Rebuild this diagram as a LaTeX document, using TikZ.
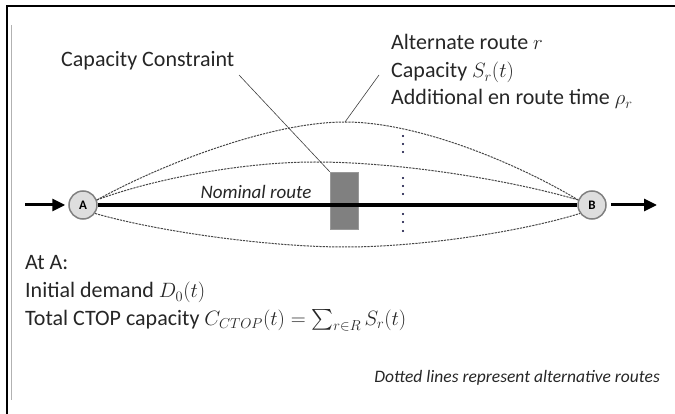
\documentclass[tikz,border=0pt]{standalone}
\usepackage{amsmath}
\usepackage{fontspec}
\setmainfont{Carlito}
\usetikzlibrary{arrows.meta}
\begin{document}
\begin{tikzpicture}[x=1pt,y=-1pt,
  txt/.style={inner sep=0pt, anchor=base west, font=\fontsize{22}{26}\selectfont, text=black!85},
  small/.style={inner sep=0pt, font=\itshape\fontsize{17.5}{21}\selectfont, text=black!85},
  alt/.style={draw=black!72, line width=1pt, dash pattern=on 2.2pt off 1pt},
  station/.style={circle, draw=black!50, fill=black!13, line width=1.5pt, minimum size=28pt, inner sep=0pt, font=\bfseries\fontsize{13}{13}\selectfont},
  leader/.style={draw=black!75, line width=0.6pt},
  flow/.style={line width=3pt, -{Triangle[length=13pt,width=12pt]}},
  nominal/.style={line width=4pt, black}
]
\useasboundingbox (0,0) rectangle (675,414);
% frame
\draw[line width=2.5pt] (675,6) -- (7,6) -- (7,414);
\draw[black!30, line width=0.8pt] (11,25) -- (11,400);

% stations
\node[station] (A) at (83,205) {A};
\node[station] (B) at (592,205) {B};
\coordinate (inA) at (25,205);
\coordinate (outB) at (657,205);

% capacity constraint box
\node[draw=black!40, fill=black!50, line width=0.5pt, minimum width=28pt, minimum height=57pt, inner sep=0pt] (cc) at (344,200.5) {};

% alternate routes
\coordinate (p1) at (345,122);
\coordinate (p2) at (315,162);
\coordinate (p3) at (345,247);
\draw[alt] (A.20) .. controls (160,165) and (270,122) .. (p1) .. controls (420,122) and (520,165) .. (B.160);
\draw[alt] (A.20) .. controls (150,180) and (240,162) .. (p2) .. controls (400,162) and (510,180) .. (B.160);
\draw[alt] (A.-35) .. controls (160,232) and (270,247) .. (p3) .. controls (420,247) and (520,232) .. (B.215);

% nominal route
\draw[nominal] (A.east) -- (B.west);
\node[small, font=\itshape\fontsize{19}{22}\selectfont, anchor=base] (nom) at (256,199) {Nominal route};

% arrows
\draw[flow, shorten >=3pt] (inA) -- (A.west);
\draw[flow, shorten <=4pt] (B.east) -- (outB);

% dots
\foreach \yy in {136,144,152,178,186,194,214,222,231}
  \fill[black!80!blue] (403,\yy) circle (1.1pt);

% labels
\node[txt] (ccl) at (61,67) {Capacity Constraint};
\node[txt] (alt1) at (391,50) {Alternate route $r$};
\node[txt] (alt2) at (391,78) {Capacity $S_r(t)$};
\node[txt] (alt3) at (391,105) {Additional en route time $\rho_r$};
\coordinate (lc1) at (239,75);
\coordinate (lc2) at (379,75);
\draw[leader] (lc1) -- (cc.north west);
\draw[leader] (lc2) -- (p1);

\node[txt] (at) at (25,270) {At A:};
\node[txt] (dem) at (25,298) {Initial demand $D_0(t)$};
\node[txt] (tot) at (25,325) {Total CTOP capacity $C_{CTOP}(t)=\textstyle\sum_{r\in R}S_r(t)$};

\node[small, anchor=base east] (note) at (660,382) {Dotted lines represent alternative routes};
\end{tikzpicture}
\end{document}
